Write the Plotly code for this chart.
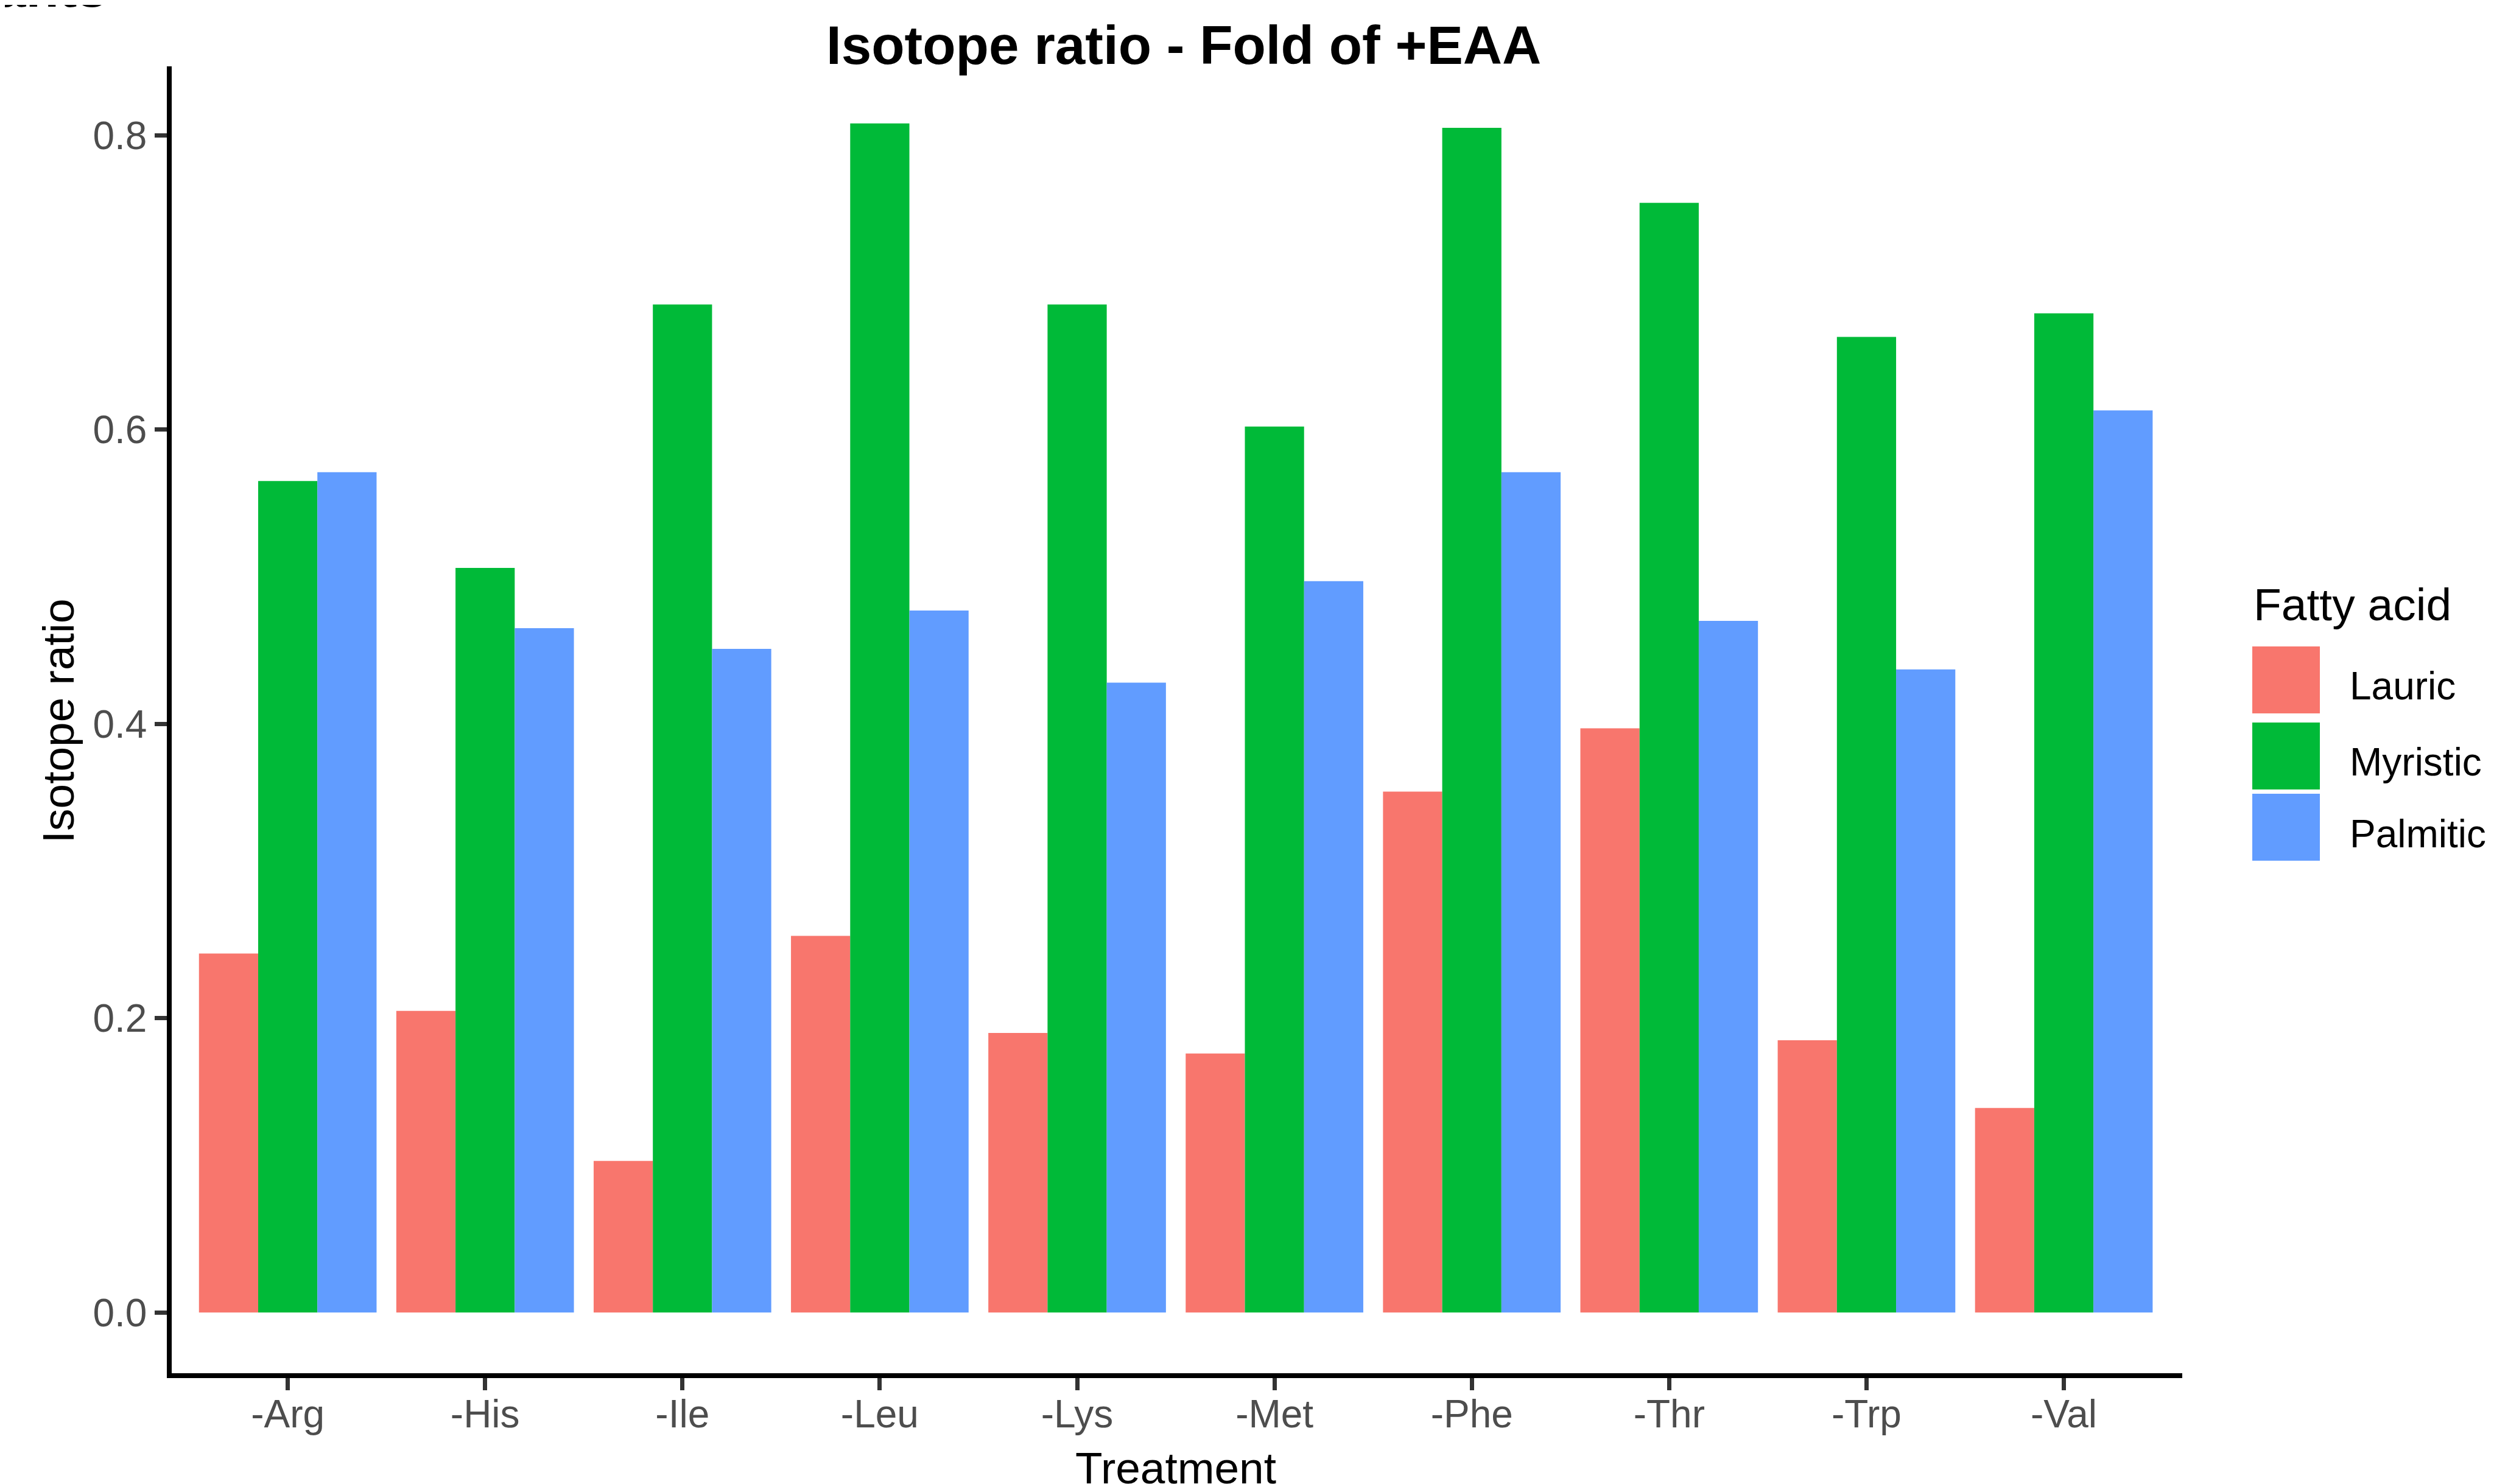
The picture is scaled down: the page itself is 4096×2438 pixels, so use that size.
import plotly.graph_objects as go

# ---------------- data ----------------
treatments = ["-Arg", "-His", "-Ile", "-Leu", "-Lys", "-Met", "-Phe", "-Thr", "-Trp", "-Val"]
fatty_acids = ["Lauric", "Myristic", "Palmitic"]
lauric = [0.244, 0.205, 0.103, 0.256, 0.190, 0.176, 0.354, 0.397, 0.185, 0.139]
myristic = [0.565, 0.506, 0.685, 0.808, 0.685, 0.602, 0.805, 0.754, 0.663, 0.679]
palmitic = [0.571, 0.465, 0.451, 0.477, 0.428, 0.497, 0.571, 0.470, 0.437, 0.613]
y_ticks = [0.0, 0.2, 0.4, 0.6, 0.8]
y_tick_labels = ["0.0", "0.2", "0.4", "0.6", "0.8"]

colors = ["#F8766D", "#00BA38", "#619CFF"]
series = [lauric, myristic, palmitic]

# ---------------- layout geometry (pixels) ----------------
W, H = 4096, 2438
# panel edges as in the reference (axis line centres)
PL, PR, PT, PB = 270.4, 3576, 100.7, 2252
LW = 7.7
# plotly draws axis lines outside the plot area -> shift plot area edges
L, R, T, B = PL + LW / 2, PR, PT, PB - LW / 2
FONT = "Liberation Sans, Arial, sans-serif"

x_lo, x_hi = -0.6, len(treatments) - 1 + 0.6
y_lo, y_hi = -0.0428, 0.8468
xppu = (PR - PL) / (x_hi - x_lo)
yppu = (PB - PT) / (y_hi - y_lo)
x_range = [x_lo + (L - PL) / xppu, x_hi]
y_range = [y_lo + (PB - B) / yppu, y_hi]


def px(xp):
    return (xp - L) / (R - L)


def py(yp):
    return (B - yp) / (B - T)


fig = go.Figure()
for name, vals, col in zip(fatty_acids, series, colors):
    fig.add_trace(go.Bar(x=treatments, y=vals, name=name,
                         marker=dict(color=col, line=dict(width=0)),
                         showlegend=False))

fig.update_layout(
    width=W, height=H, autosize=False,
    margin=dict(l=L, r=W - R, t=T, b=H - B, pad=0),
    paper_bgcolor="white", plot_bgcolor="white",
    barmode="group", bargap=0.1, bargroupgap=0.0,
    font=dict(family=FONT, color="black"),
    xaxis=dict(range=x_range, showgrid=False, zeroline=False,
               showline=True, linecolor="black", linewidth=LW,
               ticks="outside", ticklen=20, tickwidth=6.7, tickcolor="#333333",
               ticklabelstandoff=-16,
               tickfont=dict(size=64, color="#4D4D4D", family=FONT)),
    yaxis=dict(range=y_range, showgrid=False, zeroline=False,
               showline=True, linecolor="black", linewidth=LW,
               tickvals=y_ticks, ticktext=y_tick_labels,
               ticks="outside", ticklen=20, tickwidth=6.7, tickcolor="#333333",
               tickfont=dict(size=64, color="#4D4D4D", family=FONT)),
)

ann = []
# title
ann.append(dict(text="<b>Isotope ratio - Fold of +EAA</b>", x=px(1936), y=py(65.3),
                xref="paper", yref="paper", xanchor="center", yanchor="middle",
                showarrow=False, font=dict(size=89, color="black", family=FONT)))
# cropped fragment at top-left
ann.append(dict(text="<b>ants</b>", x=px(170), y=py(3.4 - 0.358 * 89),
                xref="paper", yref="paper", xanchor="right", yanchor="middle",
                showarrow=False, font=dict(size=89, color="black", family=FONT)))
# axis titles
ann.append(dict(text="Treatment", x=px((PL + PR) / 2), y=py(2404),
                xref="paper", yref="paper", xanchor="center", yanchor="middle",
                showarrow=False, font=dict(size=73, color="black", family=FONT)))
ann.append(dict(text="Isotope ratio", x=px(88), y=py((PT + PB) / 2), textangle=-90,
                xref="paper", yref="paper", xanchor="center", yanchor="middle",
                showarrow=False, font=dict(size=73, color="black", family=FONT)))
# legend title
ann.append(dict(text="Fatty acid", x=px(3691), y=py(985),
                xref="paper", yref="paper", xanchor="left", yanchor="middle",
                showarrow=False, font=dict(size=75, color="black", family=FONT)))

key_tops = [1054, 1179, 1296]
key_h = 110
label_mid = [1119, 1244, 1362]
shapes = []
for name, col, kt, lm in zip(fatty_acids, colors, key_tops, label_mid):
    shapes.append(dict(type="rect", xref="paper", yref="paper",
                       x0=px(3691), x1=px(3802), y0=py(kt + key_h), y1=py(kt),
                       fillcolor=col, line=dict(width=0)))
    ann.append(dict(text=name, x=px(3849), y=py(lm),
                    xref="paper", yref="paper", xanchor="left", yanchor="middle",
                    showarrow=False, font=dict(size=64, color="black", family=FONT)))

fig.update_layout(annotations=ann, shapes=shapes)
fig.write_html("out.html")
